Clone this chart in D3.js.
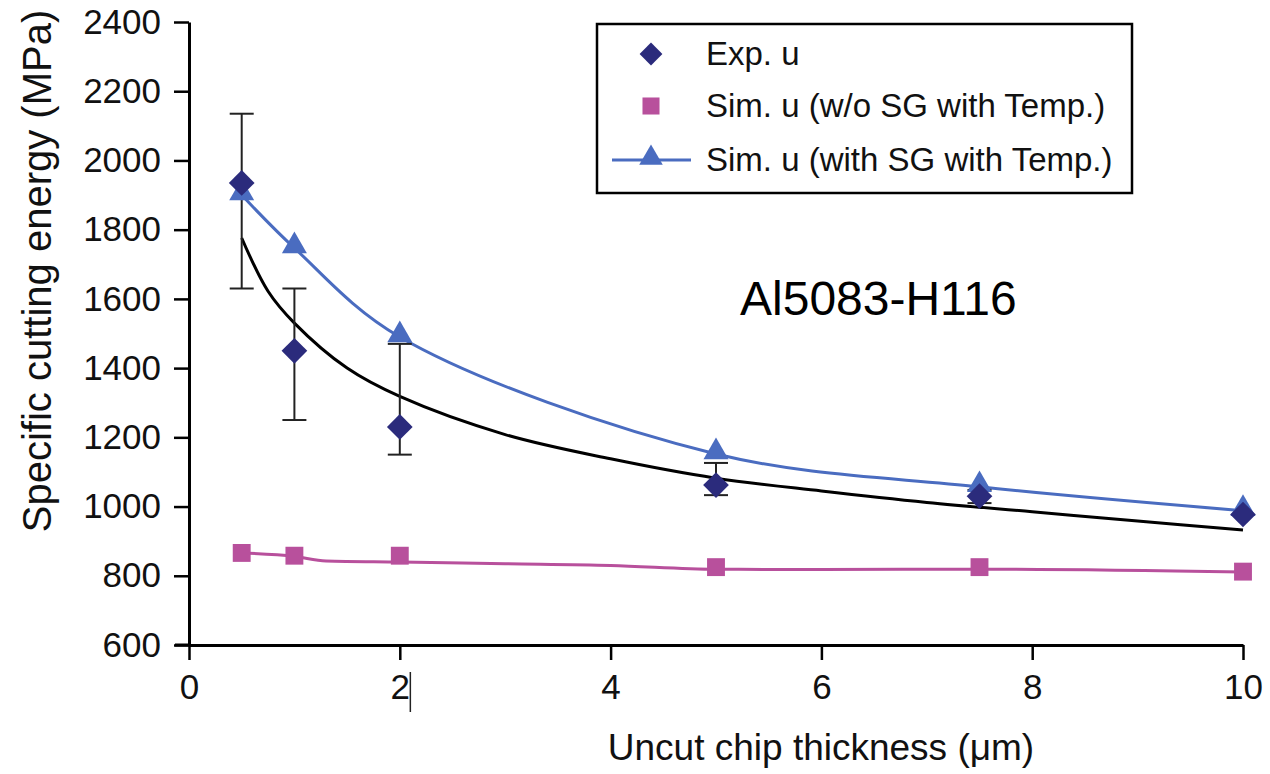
<!DOCTYPE html>
<html>
<head>
<meta charset="utf-8">
<script src="https://cdn.jsdelivr.net/npm/d3@7"></script>
<style>
  body { margin: 0; background: #fff; }
  svg { display: block; font-family: "Liberation Sans", Arial, sans-serif; }
</style>
</head>
<body>
<svg id="chart" width="1270" height="774"></svg>
<script>
// thickness values (um) where samples were taken
var thickness = [0.5, 1, 2, 5, 7.5, 10];
// experimental specific cutting energy and its error bars
var expU = [1935, 1450, 1230, 1062, 1030, 977];
var expHigh = [2135, 1630, 1470, 1126, 1048, null];
var expLow = [1630, 1250, 1150, 1033, 1010, null];
// simulation without strain gradient
var simNoSG = [866, 858, 858, 825, 825, 812];
// simulation with strain gradient
var simSG = [1900, 1747, 1490, 1152, 1057, 988];
// smoothed line drawn through the no-SG squares
var noSGLineX = [0.5, 1, 1.3, 2, 3, 4, 5, 6, 7.5, 10];
var noSGLineY = [866, 856, 843, 840, 835, 830, 819, 818, 819, 811];
// black trend curve through the experiments
var fitX = [0.5, 0.75, 1, 1.5, 2, 3, 4, 5, 6, 7, 8, 9, 10];
var fitY = [1776, 1622, 1530, 1400, 1318, 1208, 1138, 1082, 1045, 1012, 985, 958, 932];

var xTicks = [0, 2, 4, 6, 8, 10];
var yTicks = [600, 800, 1000, 1200, 1400, 1600, 1800, 2000, 2200, 2400];
var legendNames = ["Exp. u", "Sim. u (w/o SG with Temp.)", "Sim. u (with SG with Temp.)"];

var navy = "#2b2b7c", pink = "#b8509c", blue = "#4a6cc0";

var svg = d3.select("#chart");
var x = d3.scaleLinear().domain([0, 10]).range([189, 1243]);
var y = d3.scaleLinear().domain([600, 2400]).range([645, 22]);

// axes
var xAxis = svg.append("g").attr("transform", "translate(0," + y(600) + ")")
    .call(d3.axisBottom(x).tickValues(xTicks).tickFormat(d3.format("d"))
      .tickSize(15).tickSizeOuter(0).tickPadding(14));
var yAxis = svg.append("g").attr("transform", "translate(" + x(0) + ",0)")
    .call(d3.axisLeft(y).tickValues(yTicks).tickFormat(d3.format("d"))
      .tickSize(15).tickSizeOuter(0).tickPadding(13));
[xAxis, yAxis].forEach(function (a) {
  a.select(".domain").attr("stroke", "#000").attr("stroke-width", 3);
  a.selectAll(".tick line").attr("stroke", "#000").attr("stroke-width", 2.5);
  a.selectAll(".tick text").attr("fill", "#111").style("font-size", "35px")
    .style("font-family", "'Liberation Sans', Arial, sans-serif");
});
// x axis line pokes out a little to the left of the y axis
svg.append("line").attr("x1", x(0) - 14).attr("x2", x(0))
   .attr("y1", y(600)).attr("y2", y(600)).attr("stroke", "#000").attr("stroke-width", 3);
xAxis.selectAll(".tick text").attr("dy", "0.72em");

// axis titles (x title sits right of centre in the original)
svg.append("text").attr("x", 821).attr("y", 760)
   .attr("text-anchor", "middle").style("font-size", "37px").attr("fill", "#111")
   .text("Uncut chip thickness (\u03bcm)");
svg.append("text").attr("transform", "translate(51," + 271 + ") rotate(-90)")
   .attr("text-anchor", "middle").style("font-size", "40px").attr("fill", "#111")
   .text("Specific cutting energy (MPa)");

// stray cursor mark next to the "2" label
svg.append("line").attr("x1", x(2.1)).attr("x2", x(2.1)).attr("y1", 672).attr("y2", 712)
   .attr("stroke", "#222").attr("stroke-width", 1.5);

// black trend curve
var fitPts = fitX.map(function (d, i) { return [d, fitY[i]]; });
svg.append("path").datum(fitPts)
   .attr("d", d3.line().x(function (d) { return x(d[0]); }).y(function (d) { return y(d[1]); }).curve(d3.curveCatmullRom))
   .attr("fill", "none").attr("stroke", "#000").attr("stroke-width", 3);

// pink line
var pinkPts = noSGLineX.map(function (d, i) { return [d, noSGLineY[i]]; });
svg.append("path").datum(pinkPts)
   .attr("d", d3.line().x(function (d) { return x(d[0]); }).y(function (d) { return y(d[1]); }).curve(d3.curveMonotoneX))
   .attr("fill", "none").attr("stroke", pink).attr("stroke-width", 3);

// blue line
var bluePts = thickness.map(function (d, i) { return [d, simSG[i]]; });
svg.append("path").datum(bluePts)
   .attr("d", d3.line().x(function (d) { return x(d[0]); }).y(function (d) { return y(d[1]); }).curve(d3.curveCatmullRom))
   .attr("fill", "none").attr("stroke", blue).attr("stroke-width", 3);

// error bars
var errs = svg.append("g").attr("stroke", "#222").attr("stroke-width", 2);
thickness.forEach(function (t, i) {
  if (expHigh[i] == null) return;
  errs.append("line").attr("x1", x(t)).attr("x2", x(t)).attr("y1", y(expHigh[i])).attr("y2", y(expLow[i]));
  [expHigh[i], expLow[i]].forEach(function (v) {
    errs.append("line").attr("x1", x(t) - 12).attr("x2", x(t) + 12).attr("y1", y(v)).attr("y2", y(v));
  });
});

// diamond = square turned 45 degrees
var diamond = d3.symbol().type(d3.symbolSquare).size(330);
var square = d3.symbol().type(d3.symbolSquare).size(320);
var triangle = d3.symbol().type(d3.symbolTriangle).size(270);

// squares
svg.selectAll(".sq").data(simNoSG).enter().append("path").attr("class", "sq")
   .attr("d", square).attr("fill", pink)
   .attr("transform", function (d, i) { return "translate(" + x(thickness[i]) + "," + y(d) + ")"; });
// triangles
svg.selectAll(".tri").data(simSG).enter().append("path").attr("class", "tri")
   .attr("d", triangle).attr("fill", blue)
   .attr("transform", function (d, i) { return "translate(" + x(thickness[i]) + "," + (y(d) - 2) + ")"; });
// diamonds
svg.selectAll(".dia").data(expU).enter().append("path").attr("class", "dia")
   .attr("d", diamond).attr("fill", navy)
   .attr("transform", function (d, i) { return "translate(" + x(thickness[i]) + "," + y(d) + ") rotate(45)"; });

// material label
svg.append("text").attr("x", 740).attr("y", 315).style("font-size", "48px").attr("fill", "#000")
   .text("Al5083-H116");

// legend
var lg = svg.append("g");
lg.append("rect").attr("x", 597).attr("y", 24).attr("width", 535).attr("height", 169)
  .attr("fill", "#fff").attr("stroke", "#000").attr("stroke-width", 2.5);
var rowsY = [54, 106, 160];
lg.append("path").attr("d", diamond.size(260)).attr("fill", navy)
  .attr("transform", "translate(651," + rowsY[0] + ") rotate(45)");
lg.append("path").attr("d", square.size(290)).attr("fill", pink)
  .attr("transform", "translate(651," + rowsY[1] + ")");
lg.append("line").attr("x1", 612).attr("x2", 691).attr("y1", rowsY[2]).attr("y2", rowsY[2])
  .attr("stroke", blue).attr("stroke-width", 3);
lg.append("path").attr("d", triangle.size(240)).attr("fill", blue)
  .attr("transform", "translate(651," + (rowsY[2] - 2) + ")");
lg.selectAll(".lt").data(legendNames).enter().append("text").attr("class", "lt")
  .attr("x", 706).attr("y", function (d, i) { return rowsY[i] + 11; })
  .style("font-size", "33px").attr("fill", "#111").text(function (d) { return d; });
</script>
</body>
</html>
